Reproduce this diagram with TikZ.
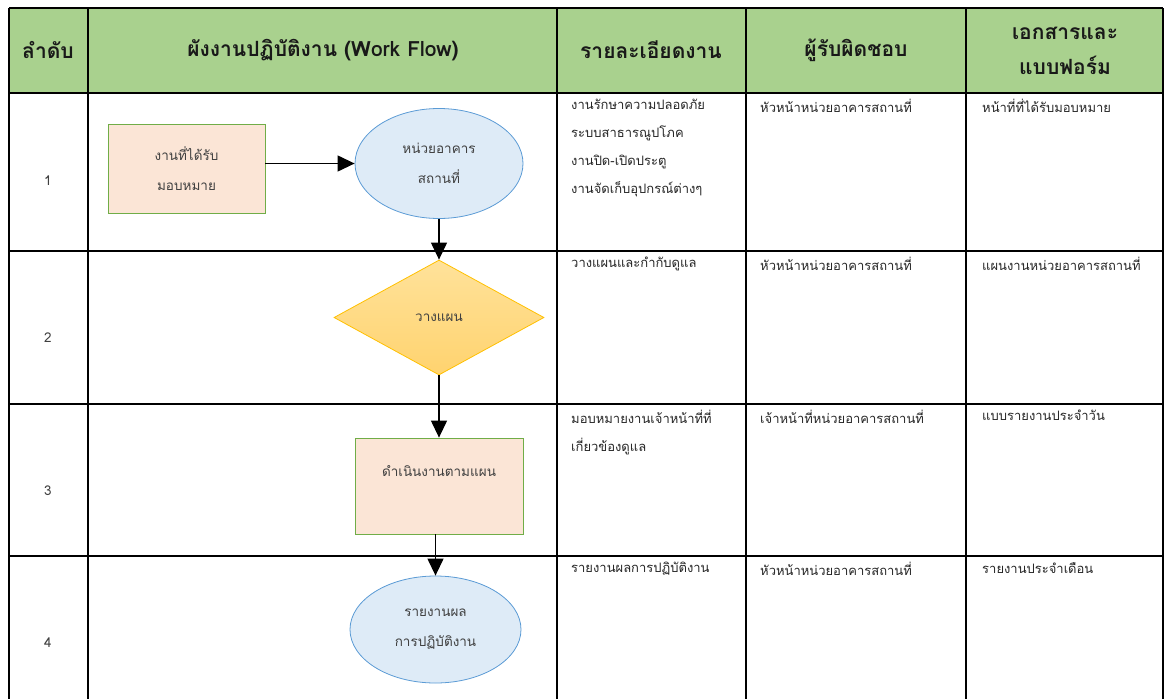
\documentclass[tikz,border=0pt]{standalone}
\usepackage{fontspec}
\setmainfont[Script=Thai]{Loma}
\usetikzlibrary{shapes.geometric, positioning, arrows.meta}

\definecolor{headgreen}{HTML}{A9D18E}
\definecolor{taskfill}{HTML}{FBE5D6}
\definecolor{taskline}{HTML}{70AD47}
\definecolor{unitfill}{HTML}{DEEBF7}
\definecolor{unitline}{HTML}{5B9BD5}
\definecolor{plantop}{HTML}{FFE29A}
\definecolor{planbot}{HTML}{FFD36F}
\definecolor{planline}{HTML}{FFC000}

\tikzset{grid/.style = {line width=2.2pt, black}}
\tikzset{head/.style = {font=\fontsize{21}{35}\selectfont\bfseries, align=center, text=black!90}}
\tikzset{cell/.style = {font=\fontsize{13}{28}\selectfont, align=left, anchor=north west, text=black!85, inner sep=0pt}}
\tikzset{shapetext/.style = {font=\fontsize{13.5}{30}\selectfont, align=center, text=black!75, inner sep=0pt}}
\tikzset{task/.style = {shapetext, rectangle, fill=taskfill, draw=taskline, thick}}
\tikzset{unit/.style = {shapetext, ellipse, fill=unitfill, draw=unitline, thick}}
\tikzset{plan/.style = {shapetext, diamond, top color=plantop, bottom color=planbot, draw=planline, thick}}
\tikzset{arrow/.style = {line width=1.2pt, -{Triangle[length=17pt,width=16pt]}}}

\begin{document}
\begin{tikzpicture}[x=1pt,y=-1pt]
\useasboundingbox (0,0) rectangle (1166,699);

% header band and table lines
\fill[headgreen] (9,8) rectangle (1163,93);
\foreach \y in {8,93,251,404,556}
  \draw[grid] (9,\y) -- (1163,\y);
\foreach \x in {9,88,557,746,966,1163}
  \draw[grid] (\x,8) -- (\x,699);

\node[head] (hno) at (48,50) {ลำดับ};
\node[head] (hflow) at (323,50) {ผังงานปฏิบัติงาน (Work Flow)};
\node[head] (hdetail) at (651,50) {รายละเอียดงาน};
\node[head] (hresp) at (856,50) {ผู้รับผิดชอบ};
\node[head] (hdoc) at (1065,51) {เอกสารและ\\แบบฟอร์ม};

% row numbers
\node[shapetext] (n1) at (48,181) {1};
\node[shapetext] (n2) at (48,338) {2};
\node[shapetext] (n3) at (48,491) {3};
\node[shapetext] (n4) at (48,643) {4};

% flow
\node[task, minimum width=157pt, minimum height=89pt] (task) at (186.5,168.5) {งานที่ได้รับ\\มอบหมาย};
\node[unit, minimum width=168pt, minimum height=110pt] (unit) at (439,163.5) {หน่วยอาคาร\\สถานที่};
\node[plan, minimum width=210pt, minimum height=115pt] (plan) at (439,317.5) {วางแผน};
\node[task, minimum width=168pt, minimum height=96pt] (work) at (439,486) {ดำเนินงานตามแผน\\\mbox{}};
\node[unit, minimum width=171pt, minimum height=107pt] (report) at (435.5,629.5) {รายงานผล\\การปฏิบัติงาน};

\draw[arrow] (task.east |- unit.west) -- (unit.west);
\draw[arrow] (unit.south) -- (plan.north);
\draw[arrow] (plan.south) -- (work.north);
\draw[arrow] (work.south -| report.north) -- (report.north);

% details
\node[cell] (d1) at (571,99) {งานรักษาความปลอดภัย\\ระบบสาธารณูปโภค\\งานปิด-เปิดประตู\\งานจัดเก็บอุปกรณ์ต่างๆ};
\node[cell] (d2) at (571,257) {วางแผนและกำกับดูแล};
\node[cell] (d3) at (571,410) {มอบหมายงานเจ้าหน้าที่ที่\\เกี่ยวข้องดูแล};
\node[cell] (d4) at (571,562) {รายงานผลการปฏิบัติงาน};

% responsible
\node[cell] (r1) at (760,99) {หัวหน้าหน่วยอาคารสถานที่};
\node[cell] (r2) at (760,257) {หัวหน้าหน่วยอาคารสถานที่};
\node[cell] (r3) at (760,410) {เจ้าหน้าที่หน่วยอาคารสถานที่};
\node[cell] (r4) at (760,562) {หัวหน้าหน่วยอาคารสถานที่};

% documents
\node[cell] (f1) at (982,99) {หน้าที่ที่ได้รับมอบหมาย};
\node[cell] (f2) at (982,257) {แผนงานหน่วยอาคารสถานที่};
\node[cell] (f3) at (982,410) {แบบรายงานประจำวัน};
\node[cell] (f4) at (982,562) {รายงานประจำเดือน};
\end{tikzpicture}
\end{document}
